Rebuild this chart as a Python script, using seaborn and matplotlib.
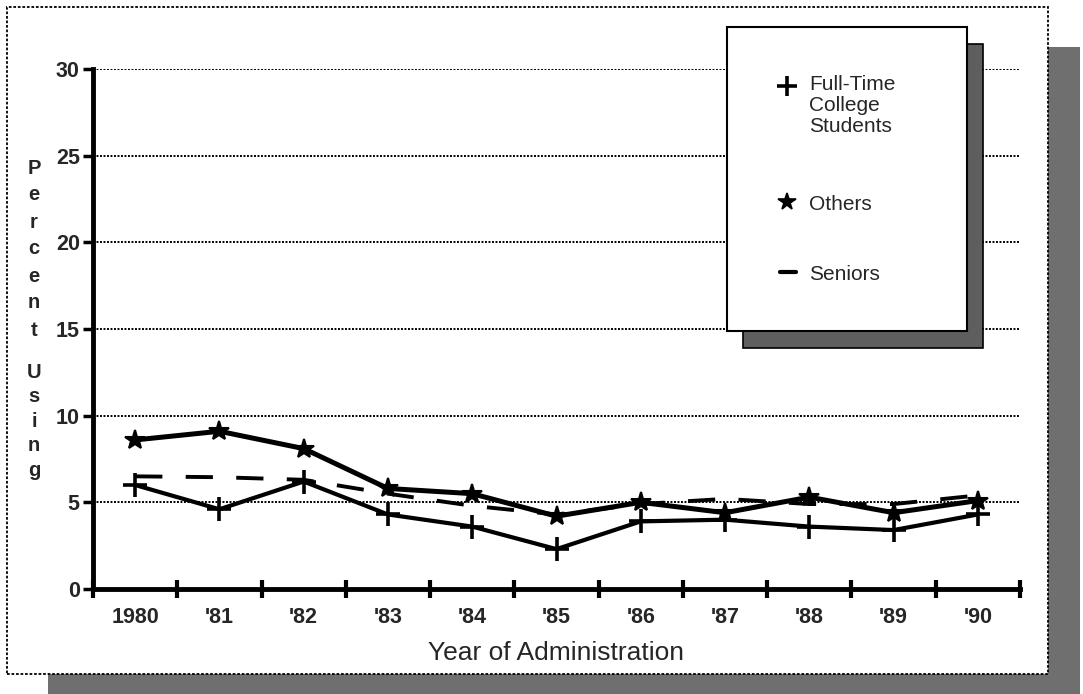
import numpy as np
import pandas as pd
import seaborn as sns
import matplotlib
matplotlib.use("Agg")
import matplotlib.pyplot as plt
from matplotlib.patches import Rectangle
from matplotlib.lines import Line2D

# ---- data ----
years = ["1980", "'81", "'82", "'83", "'84", "'85", "'86", "'87", "'88", "'89", "'90"]
full_time = [6.0, 4.6, 6.2, 4.3, 3.6, 2.3, 3.9, 4.0, 3.6, 3.4, 4.3]
others = [8.6, 9.1, 8.1, 5.8, 5.5, 4.2, 5.0, 4.4, 5.3, 4.4, 5.1]
seniors = [6.5, 6.45, 6.3, 5.5, 4.8, 4.3, 4.9, 5.2, 4.9, 4.9, 5.4]
yticks = [0, 5, 10, 15, 20, 25, 30]
series_labels = ["Full-Time\nCollege\nStudents", "Others", "Seniors"]

sns.set_theme(style="white")
plt.rcParams['font.family'] = ['Liberation Sans', 'DejaVu Sans']

W, H = 1083, 694
fig = plt.figure(figsize=(W / 100, H / 100), dpi=100)
fig.patch.set_facecolor("white")

def fx(px):
    return px / W

def fy(py):
    return 1 - py / H

# outer frame shadow and frame
shadow_col = "#6f6f6f"
fig.patches.append(Rectangle((fx(48), fy(700)), fx(1080) - fx(48), fy(47) - fy(700),
                             transform=fig.transFigure, facecolor=shadow_col,
                             edgecolor="none", zorder=-3))
fig.patches.append(Rectangle((fx(7), fy(674)), fx(1048) - fx(7), fy(7) - fy(674),
                             transform=fig.transFigure, facecolor="white",
                             edgecolor="black", lw=1.3, linestyle=(0, (1.5, 1)),
                             zorder=-2))

ax = fig.add_axes([fx(93), fy(589), fx(1020) - fx(93), fy(69) - fy(589)])
ax.set_facecolor("none")

x = np.arange(len(years))
df = pd.DataFrame({"x": x, "full": full_time, "others": others, "seniors": seniors})

sns.lineplot(data=df, x="x", y="seniors", ax=ax, color="black", lw=2.8, zorder=3)
ax.lines[-1].set_dashes([7, 6])
sns.lineplot(data=df, x="x", y="full", ax=ax, color="black", lw=3.0,
             marker="+", markersize=17, markeredgewidth=2.6,
             markeredgecolor="black", markerfacecolor="black", zorder=4)
sns.lineplot(data=df, x="x", y="others", ax=ax, color="black", lw=3.6,
             marker="*", markersize=15, markeredgewidth=1.5,
             markeredgecolor="black", markerfacecolor="black", zorder=5)

ax.set_xlim(-0.5, len(years) - 0.5)
ax.set_ylim(0, 30)

# x ticks: boundaries as major ticks, labels at centers as minor ticks
ax.set_xticks(np.arange(-0.5, len(years), 1.0))
ax.set_xticklabels([])
ax.set_xticks(x, minor=True)
ax.set_xticklabels(years, minor=True, fontsize=15.5, fontweight="bold")
ax.tick_params(axis="x", which="major", bottom=True, direction="inout", length=13,
               width=3, color="black")
ax.tick_params(axis="x", which="minor", bottom=True, length=0, pad=13)

ax.set_yticks(yticks)
ax.set_yticklabels([str(v) for v in yticks], fontsize=15.5, fontweight="bold")
ax.tick_params(axis="y", which="major", left=True, direction="out", length=7, width=2.5,
               pad=2.5, color="black")

ax.yaxis.grid(True, linestyle=(0, (1, 0.8)), color="black", lw=1.4)
ax.xaxis.grid(False)
ax.set_axisbelow(True)

for s in ["top", "right"]:
    ax.spines[s].set_visible(False)
for s in ["left", "bottom"]:
    ax.spines[s].set_linewidth(3.5)
    ax.spines[s].set_color("black")

ax.set_xlabel("Year of Administration", fontsize=19, labelpad=9)
ax.set_ylabel("")

# vertical stacked y label
for i, ch in enumerate("Percent"):
    fig.text(fx(34), fy(166 + i * 27.0), ch, fontsize=14.5, fontweight="bold",
             ha="center", va="center_baseline")
for i, ch in enumerate("Using"):
    fig.text(fx(34), fy(370 + i * 24.5), ch, fontsize=14.5, fontweight="bold",
             ha="center", va="center_baseline")

# legend box with shadow
fig.patches.append(Rectangle((fx(743), fy(348)), fx(983) - fx(743), fy(44) - fy(348),
                             transform=fig.transFigure, facecolor="#5e5e5e",
                             edgecolor="black", lw=1.2, zorder=5))
fig.patches.append(Rectangle((fx(727), fy(331)), fx(967) - fx(727), fy(27) - fy(331),
                             transform=fig.transFigure, facecolor="white",
                             edgecolor="black", lw=1.5, zorder=6))

fig.add_artist(Line2D([fx(787)], [fy(86)], marker="+", markersize=14, markeredgewidth=2.6,
                      color="black", transform=fig.transFigure, zorder=7))
fig.add_artist(Line2D([fx(787)], [fy(202)], marker="*", markersize=13, markeredgewidth=1.2,
                      color="black", transform=fig.transFigure, zorder=7))
fig.add_artist(Line2D([fx(780), fx(796)], [fy(272), fy(272)], lw=3, color="black",
                      transform=fig.transFigure, zorder=7))

fig.text(fx(809), fy(75), series_labels[0], fontsize=15, ha="left", va="top",
         linespacing=1.12, zorder=7)
fig.text(fx(809), fy(202), series_labels[1], fontsize=15, ha="left", va="center_baseline", zorder=7)
fig.text(fx(809), fy(272), series_labels[2], fontsize=15, ha="left", va="center_baseline", zorder=7)

fig.savefig("out.png", dpi=100, facecolor="white")
